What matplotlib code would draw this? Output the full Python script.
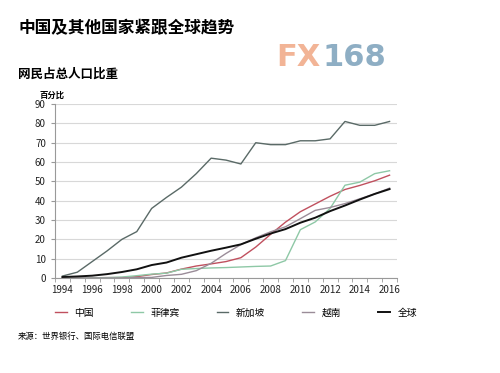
import numpy as np
import matplotlib.pyplot as plt

plt.rcParams['font.family'] = ['Noto Sans CJK SC', 'DejaVu Sans']

years = np.arange(1994, 2017)

china = [0.0, 0.0, 0.1, 0.2, 0.2, 0.7, 1.8, 2.6, 4.6, 6.2, 7.3, 8.5, 10.5,
         16.0, 22.6, 28.9, 34.3, 38.3, 42.3, 45.8, 47.9, 50.3, 53.2]
philippines = [0.0, 0.0, 0.1, 0.2, 0.5, 1.2, 2.0, 2.5, 4.5, 4.9, 5.2, 5.4, 5.7,
               6.0, 6.2, 9.0, 25.0, 29.0, 36.0, 48.0, 49.6, 54.0, 55.5]
singapore = [1.0, 3.0, 8.5, 14.0, 20.0, 24.0, 36.0, 41.7, 47.0, 54.0, 62.0, 61.0, 59.0,
             70.0, 69.0, 69.0, 71.0, 71.0, 72.0, 81.0, 79.0, 79.0, 81.0]
vietnam = [0.0, 0.0, 0.0, 0.0, 0.0, 0.2, 0.3, 1.3, 1.9, 3.8, 7.6, 12.7, 17.3,
           20.8, 23.9, 26.5, 30.7, 35.0, 36.5, 38.5, 41.0, 43.5, 46.5]
world = [0.5, 0.8, 1.2, 2.0, 3.1, 4.5, 6.7, 8.0, 10.5, 12.3, 14.1, 15.7, 17.4,
         20.3, 23.0, 25.3, 28.6, 31.2, 34.6, 37.5, 40.6, 43.5, 46.0]

series = [
    ("中国", china, "#c0505e", 1.0),
    ("菲律宾", philippines, "#8ec8a6", 1.0),
    ("新加坡", singapore, "#5a6a67", 1.0),
    ("越南", vietnam, "#9a8c98", 1.0),
    ("全球", world, "#111111", 1.4),
]

fig = plt.figure(figsize=(5, 3.73), dpi=100)
ax = fig.add_axes([0.11, 0.2547, 0.684, 0.4663])

for name, vals, color, lw in series:
    ax.plot(years, vals, color=color, lw=lw, label=name)

ax.set_xlim(1993.5, 2016.5)
ax.set_ylim(0, 90)
ax.set_yticks(np.arange(0, 91, 10))
ax.set_xticks(np.arange(1994, 2017, 2))
ax.set_xticks(np.arange(1993.5, 2017, 1), minor=True)
ax.tick_params(axis='x', which='major', length=0, labelsize=7, colors='#222222', pad=5)
ax.tick_params(axis='x', which='minor', length=3, color='#999999')
ax.tick_params(axis='y', length=3, labelsize=7, colors='#222222', color='#999999')
ax.grid(axis='y', color='#d8d8d8', lw=0.8)
ax.set_axisbelow(True)
for s in ['top', 'right']:
    ax.spines[s].set_visible(False)
for s in ['left', 'bottom']:
    ax.spines[s].set_color('#999999')
    ax.spines[s].set_linewidth(0.8)

fig.text(0.036, 0.925, "中国及其他国家紧跟全球趋势", fontsize=12, fontweight='bold', va='center')
fig.text(0.036, 0.8, "网民占总人口比重", fontsize=9, fontweight='bold', va='center')
fig.text(0.08, 0.745, "百分比", fontsize=6, fontweight='bold', va='center')
fig.text(0.553, 0.847, "FX", fontsize=22, color='#f2b496', fontweight='bold',
         family='DejaVu Sans', va='center')
fig.text(0.645, 0.847, "168", fontsize=22, color='#8eaec4', fontweight='bold',
         family='DejaVu Sans', va='center')

fig.legend(loc='center left', bbox_to_anchor=(0.11, 0.162), ncol=5, frameon=False,
           fontsize=7, handlelength=1.2, handletextpad=0.8, columnspacing=3.8,
           borderaxespad=0, borderpad=0)

fig.text(0.036, 0.097, "来源：世界银行、国际电信联盟", fontsize=6, va='center')

fig.savefig("out.png", dpi=100)
